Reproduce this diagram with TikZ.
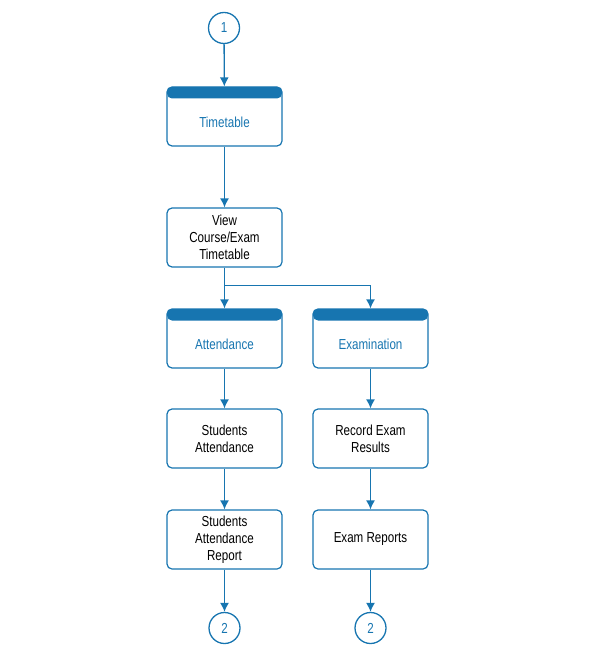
\documentclass[tikz,border=0pt]{standalone}
\usepackage{fontspec}
\setmainfont{Liberation Sans}[FakeStretch=0.80]
\usetikzlibrary{arrows.meta}
\definecolor{fblue}{HTML}{1775B0}
\tikzset{
  box/.style={draw=fblue, line width=1.2pt, rounded corners=5pt, minimum width=115pt, minimum height=59pt, inner sep=0pt, align=center, font=\fontsize{14.5}{17}\selectfont, text=black},
  hbox/.style={box, path picture={\fill[fblue] ([yshift=0pt]path picture bounding box.north west) rectangle ([yshift=-11.5pt]path picture bounding box.north east);}},
  htext/.style={text=fblue, font=\fontsize{14.5}{17}\selectfont, inner sep=0pt},
  conn/.style={draw=fblue, line width=1.3pt, circle, minimum size=31pt, inner sep=0pt, text=fblue, font=\fontsize{14.5}{14}\selectfont},
  flow/.style={draw=fblue, line width=1.3pt, -{Latex[length=9pt,width=9pt]}}
}
\begin{document}
\begin{tikzpicture}[x=1pt,y=-1pt]
\useasboundingbox (0,0) rectangle (595,660);
\node[conn] (c1) at (224,28) {1};
\node[hbox] (tt) at (224.5,116.5) {};
\node[htext] (ttt) at (224.5,122.5) {Timetable};
\node[box] (view) at (224.5,237.5) {View\\Course/Exam\\Timetable};
\node[hbox] (att) at (224.5,338.5) {};
\node[htext] (attt) at (224.5,344) {Attendance};
\node[hbox] (exa) at (370.5,338.5) {};
\node[htext] (exat) at (370.5,344) {Examination};
\node[box] (sa) at (224.5,438.5) {Students\\Attendance};
\node[box] (rer) at (370.5,438.5) {Record Exam\\Results};
\node[box] (sar) at (224.5,539.5) {Students\\Attendance\\Report};
\node[box] (er) at (370.5,539.5) {Exam Reports};
\node[conn] (c2a) at (224.5,628) {2};
\node[conn] (c2b) at (370.5,628) {2};
\coordinate (br) at (224.5,285.5);
\draw[flow] (c1) -- (tt);
\draw[flow] (tt) -- (view);
\draw[flow] (view) -- (att);
\draw[flow] (br) -| (exa);
\draw[flow] (att) -- (sa);
\draw[flow] (sa) -- (sar);
\draw[flow] (sar) -- (c2a);
\draw[flow] (exa) -- (rer);
\draw[flow] (rer) -- (er);
\draw[flow] (er) -- (c2b);
\end{tikzpicture}
\end{document}
